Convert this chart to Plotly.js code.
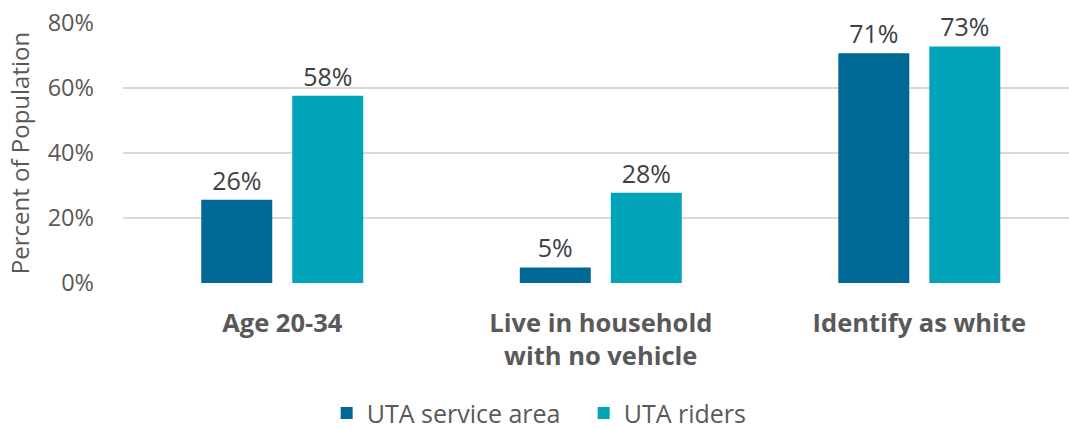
<!DOCTYPE html>
<html>
<head>
<meta charset="utf-8">
<script src="https://cdn.plot.ly/plotly-3.0.1.min.js"></script>
<style>html,body{margin:0;padding:0;background:#fff;}#chart{width:1069px;height:429px;}</style>
</head>
<body>
<div id="chart"></div>
<script>
var categories = ["Age 20-34", "Live in household<br>with no vehicle", "Identify as white"];
var seriesNames = ["UTA service area", "UTA riders"];
var serviceArea = [25.6, 4.8, 70.7];
var riders = [57.6, 27.8, 72.8];
var yTickVals = [0, 20, 40, 60, 80];
var yTickText = ["0%", "20%", "40%", "60%", "80%"];

var font = "'Open Sans', 'Noto Sans', sans-serif";
var grey = "#595959";

function barTrace(name, vals, color) {
  return {
    type: "bar",
    name: name,
    x: categories,
    y: vals,
    marker: {color: color},
    text: vals.map(function (v) { return Math.round(v) + "%"; }),
    textposition: "outside",
    cliponaxis: false,
    textfont: {family: font, size: 25, color: "#404040"},
    hoverinfo: "skip"
  };
}

var data = [
  barTrace(seriesNames[0], serviceArea, "#006895"),
  barTrace(seriesNames[1], riders, "#00A3B8")
];

var layout = {
  width: 1069, height: 429,
  margin: {l: 123, r: 0, t: 23, b: 146},
  paper_bgcolor: "#fff", plot_bgcolor: "#fff",
  font: {family: font, color: grey},
  barmode: "group",
  bargap: 0.4286,
  bargroupgap: 0.22,
  xaxis: {
    range: [-0.5, 2.47],
    showgrid: false, zeroline: false, showline: false,
    ticks: "",
    ticklabelstandoff: 22,
    tickfont: {family: font, size: 25.5, color: grey, weight: "bold"}
  },
  yaxis: {
    range: [0, 80],
    tickvals: yTickVals, ticktext: yTickText,
    showgrid: true, gridcolor: "#d9d9d9", gridwidth: 1.5,
    zeroline: false, showline: false, ticks: "",
    ticklabelstandoff: 28,
    tickfont: {family: font, size: 23.5, color: grey},
    title: {text: "Percent of Population", font: {family: font, size: 24, color: grey}, standoff: 11}
  },
  showlegend: true,
  legend: {
    orientation: "h",
    xref: "container", yref: "container",
    x: 0.546, xanchor: "center",
    y: 0.037, yanchor: "middle",
    font: {family: font, size: 25, color: grey},
    itemwidth: 30,
    entrywidth: 212
  }
};

Plotly.newPlot("chart", data, layout, {displayModeBar: false, staticPlot: true});
</script>
</body>
</html>
